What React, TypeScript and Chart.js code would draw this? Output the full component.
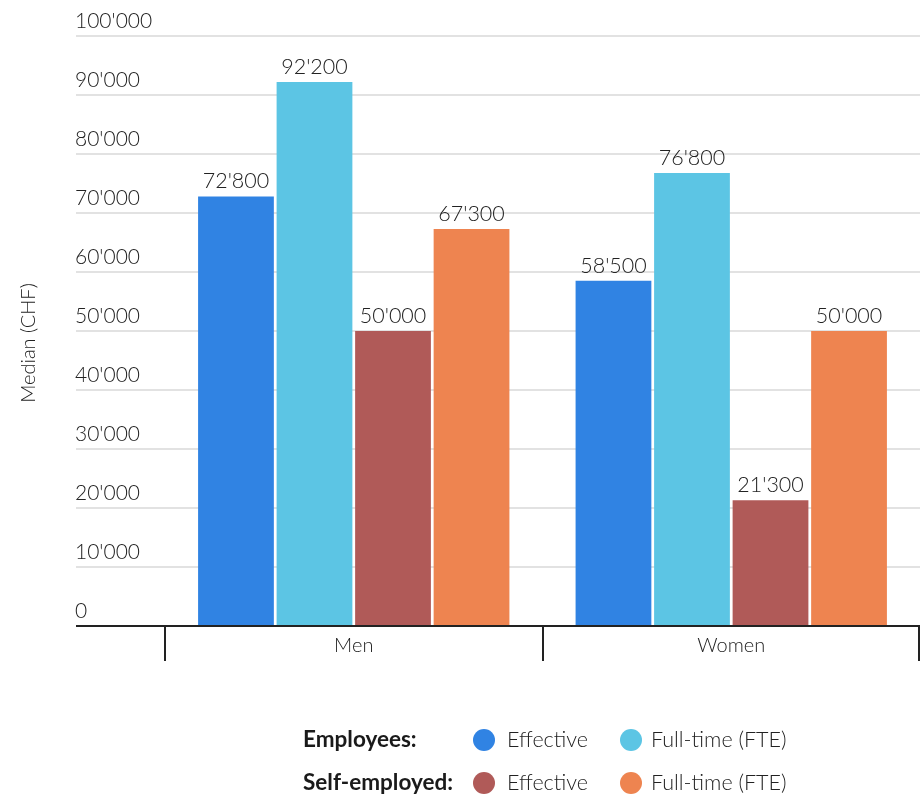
import React, { useEffect, useRef } from "react";
import { Chart, registerables } from "chart.js";

Chart.register(...registerables);

const categories = ["Men", "Women"];
const employeesEffective = [72800, 58500];
const employeesFte = [92200, 76800];
const selfEffective = [50000, 21300];
const selfFte = [67300, 50000];
const groupLabels = ["Employees:", "Self-employed:"];
const seriesLabels = ["Effective", "Full-time (FTE)"];
const seriesColors = ["#3083e3", "#5cc5e4", "#b05a58", "#ee8450"];
const yMin = 0;
const yMax = 100000;
const yStep = 10000;
const yTitle = "Median (CHF)";

const FONT = "Lato, 'Noto Sans', sans-serif";
const TEXT = "#222222";

const fmt = (v: number) =>
  String(Math.round(v)).replace(/\B(?=(\d{3})+(?!\d))/g, "'");

const customPlugin = {
  id: "customDraw",
  beforeDatasetsDraw(chart: any) {
    const { ctx, chartArea, scales } = chart;
    const y = scales.y;
    const left = 76;
    ctx.save();
    y.ticks.forEach((t: any) => {
      const py = Math.round(y.getPixelForValue(t.value));
      if (t.value !== yMin) {
        ctx.strokeStyle = "#e2e2e2";
        ctx.lineWidth = 2;
        ctx.beginPath();
        ctx.moveTo(left, py);
        ctx.lineTo(chartArea.right, py);
        ctx.stroke();
      }
      ctx.fillStyle = TEXT;
      ctx.font = `300 21px ${FONT}`;
      ctx.textAlign = "left";
      ctx.textBaseline = "alphabetic";
      ctx.fillText(fmt(t.value), left - 1, py - 8);
    });
    // y title
    ctx.save();
    ctx.translate(29, 343);
    ctx.rotate(-Math.PI / 2);
    ctx.font = `300 20px ${FONT}`;
    ctx.fillStyle = TEXT;
    ctx.textAlign = "center";
    ctx.textBaseline = "middle";
    ctx.fillText(yTitle, 0, 0);
    ctx.restore();
    ctx.restore();
  },
  afterDatasetsDraw(chart: any) {
    const { ctx, chartArea, scales } = chart;
    const x = scales.x;
    const left = 76;
    ctx.save();
    // baseline
    ctx.strokeStyle = "#222222";
    ctx.lineWidth = 2;
    ctx.beginPath();
    ctx.moveTo(left, chartArea.bottom);
    ctx.lineTo(chartArea.right, chartArea.bottom);
    ctx.stroke();
    // category boundary ticks
    const bounds: number[] = [x.left];
    for (let i = 0; i < categories.length - 1; i++) {
      bounds.push((x.getPixelForValue(i) + x.getPixelForValue(i + 1)) / 2);
    }
    bounds.push(x.right);
    bounds.forEach((bx, i) => {
      let px = Math.round(bx);
      if (i === bounds.length - 1) px -= 1;
      ctx.beginPath();
      ctx.moveTo(px, chartArea.bottom);
      ctx.lineTo(px, chartArea.bottom + 35);
      ctx.stroke();
    });
    // value labels
    ctx.font = `300 21.5px ${FONT}`;
    ctx.fillStyle = TEXT;
    ctx.textAlign = "center";
    ctx.textBaseline = "alphabetic";
    chart.data.datasets.forEach((ds: any, di: number) => {
      const meta = chart.getDatasetMeta(di);
      meta.data.forEach((bar: any, i: number) => {
        ctx.fillText(fmt(ds.data[i]), bar.x, bar.y - 8);
      });
    });
    // legend
    const rowsY = [740, 783];
    const circleX = [484, 631];
    const textX = [507, 651];
    chart.data.datasets.forEach((ds: any, di: number) => {
      const row = Math.floor(di / 2);
      const col = di % 2;
      const cy = rowsY[row];
      if (col === 0) {
        ctx.font = `bold 22.5px ${FONT}`;
        ctx.fillStyle = "#1a1a1a";
        ctx.textAlign = "left";
        ctx.textBaseline = "middle";
        ctx.fillText(groupLabels[row], 303, cy);
      }
      ctx.beginPath();
      ctx.fillStyle = ds.backgroundColor;
      ctx.arc(circleX[col], cy, 11, 0, Math.PI * 2);
      ctx.fill();
      ctx.font = `300 21.5px ${FONT}`;
      ctx.fillStyle = TEXT;
      ctx.textAlign = "left";
      ctx.textBaseline = "middle";
      ctx.fillText(seriesLabels[col], textX[col], cy);
    });
    ctx.restore();
  },
};

export default function App() {
  const ref = useRef<HTMLCanvasElement | null>(null);
  useEffect(() => {
    if (!ref.current) return;
    const series = [employeesEffective, employeesFte, selfEffective, selfFte];
    const chart = new Chart(ref.current, {
      type: "bar",
      data: {
        labels: categories,
        datasets: series.map((d, i) => ({
          label: `${groupLabels[Math.floor(i / 2)]} ${seriesLabels[i % 2]}`,
          data: d,
          backgroundColor: seriesColors[i],
          borderWidth: 0,
          barPercentage: 0.965,
          categoryPercentage: 0.832,
        })),
      },
      options: {
        responsive: false,
        animation: false,
        layout: { padding: { left: 165, right: 4, top: 36, bottom: 130 } },
        plugins: {
          legend: { display: false },
          tooltip: { enabled: false },
        },
        scales: {
          x: {
            grid: { display: false },
            border: { display: false },
            ticks: {
              color: TEXT,
              font: { family: FONT, size: 20, weight: "300" },
              padding: 0,
            },
            afterFit: (s: any) => {
              s.height = 40;
            },
          },
          y: {
            display: false,
            min: yMin,
            max: yMax,
            ticks: { stepSize: yStep },
          },
        },
      },
      plugins: [customPlugin],
    });
    return () => chart.destroy();
  }, []);
  return (
    <div style={{ position: "fixed", left: 0, top: 0, width: 924, height: 796, background: "#fff" }}>
      <canvas ref={ref} width={924} height={796} style={{ display: "block" }} />
    </div>
  );
}
